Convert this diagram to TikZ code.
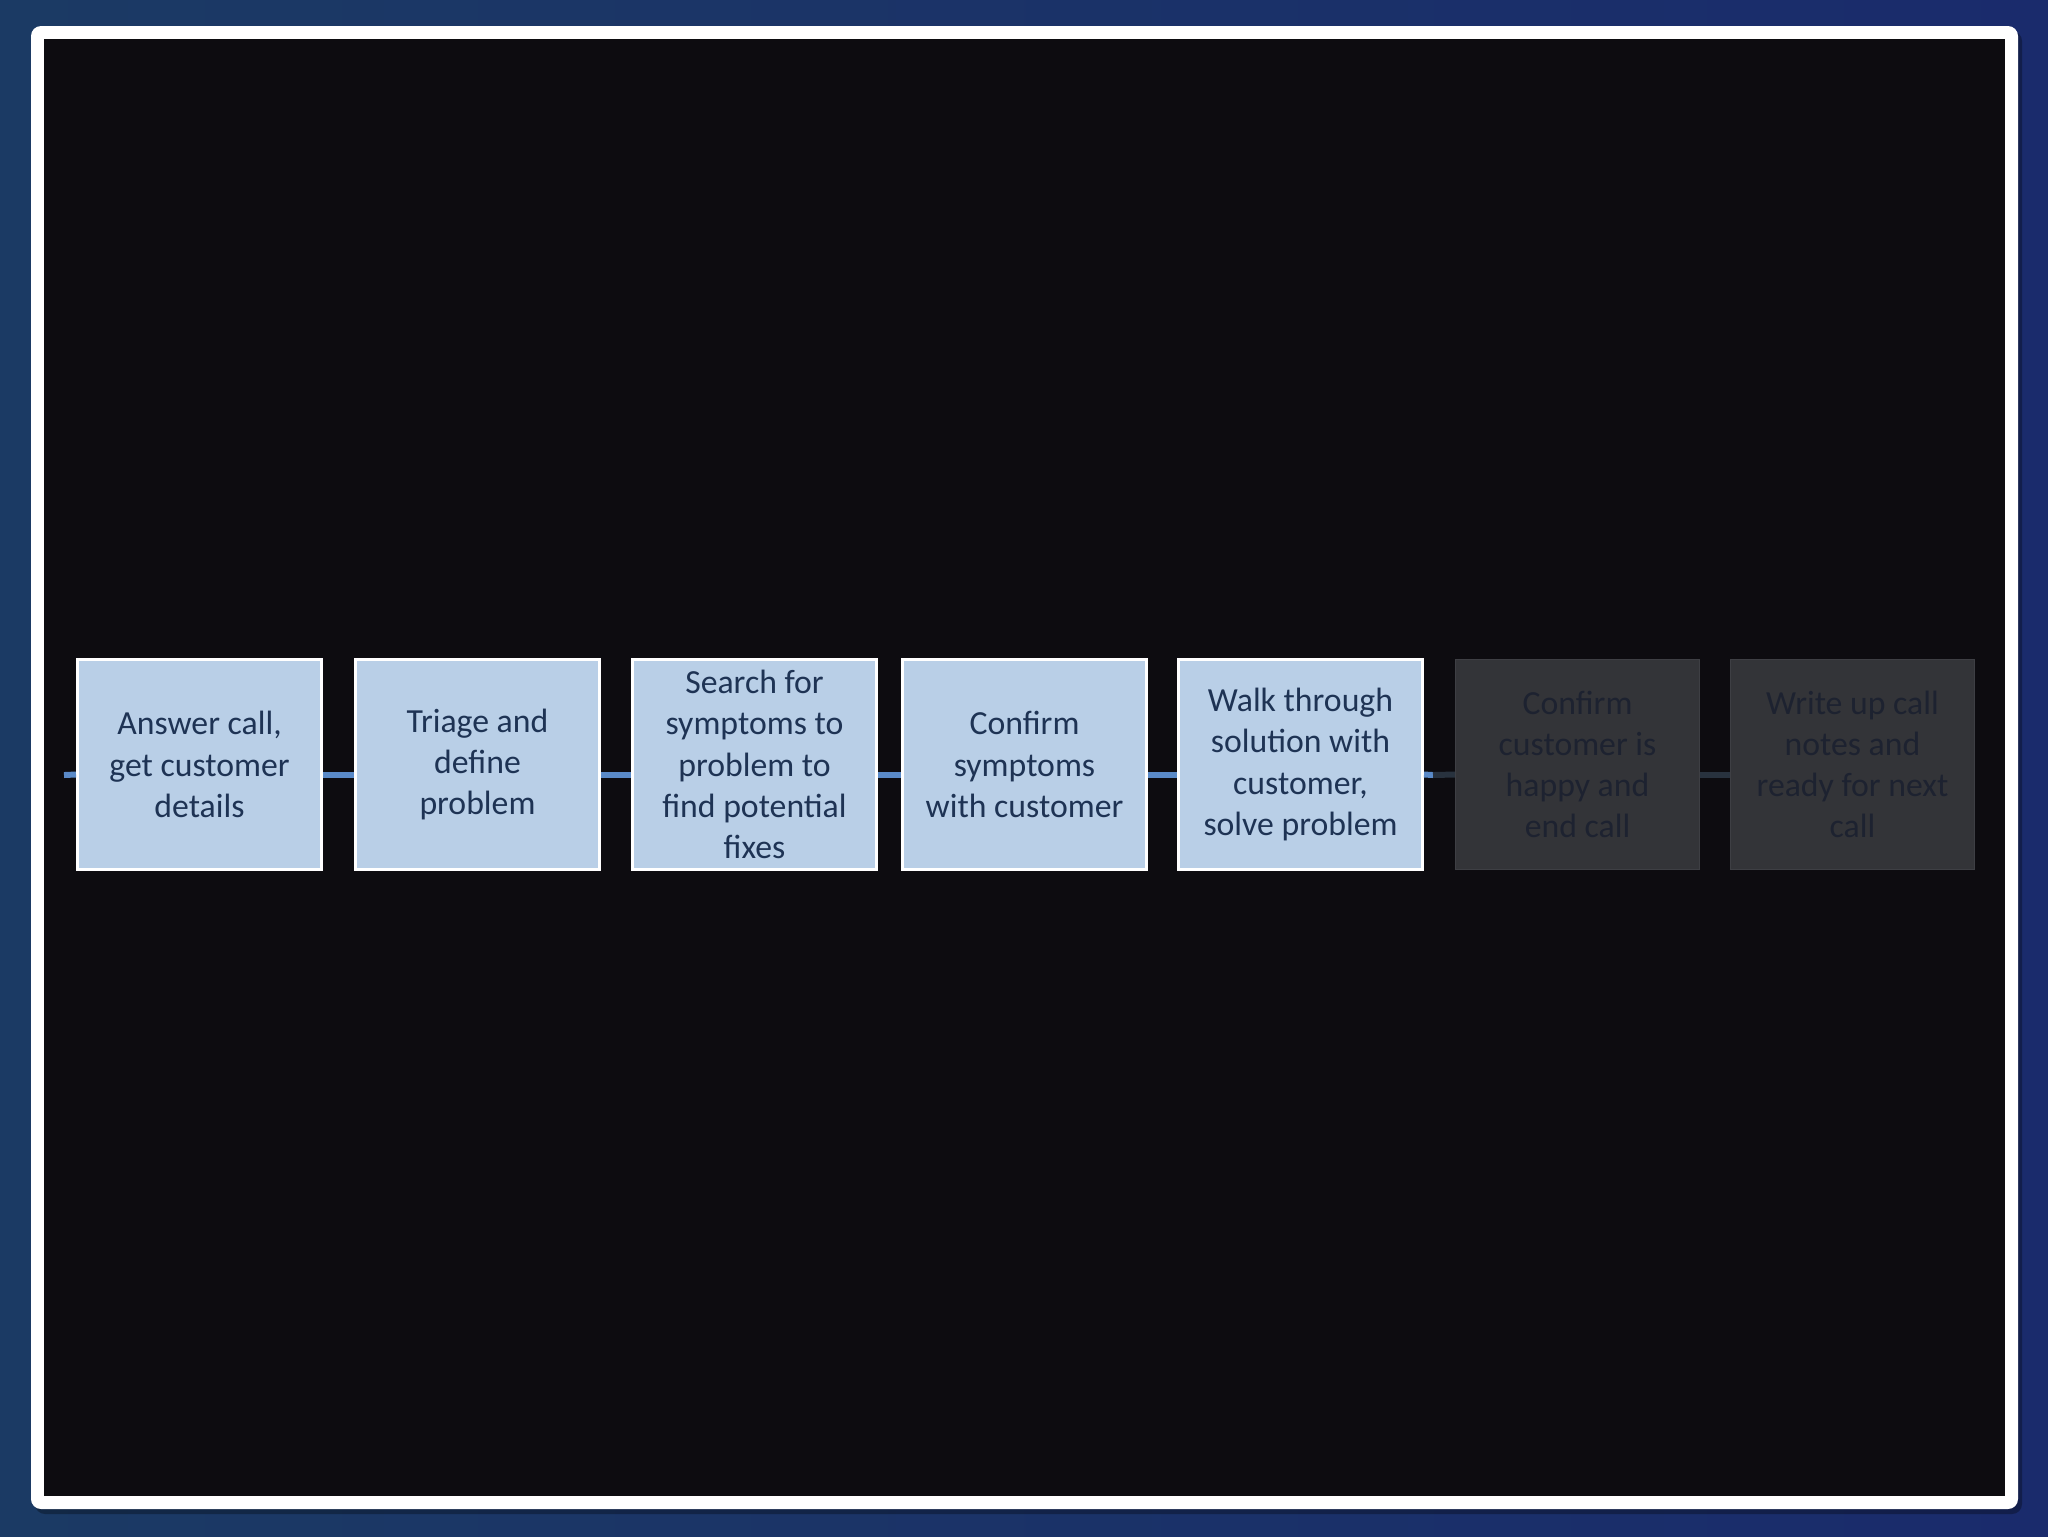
\documentclass[tikz,border=0pt]{standalone}
\usepackage{fontspec}
\setmainfont{Carlito}
\usepackage{xcolor}
\usepackage{tikz}
\definecolor{bgleft}{HTML}{1B3A64}
\definecolor{bgright}{HTML}{1A2B6C}
\definecolor{slide}{HTML}{0D0C10}
\definecolor{stepfill}{HTML}{B9CFE7}
\definecolor{steptext}{HTML}{1E3354}
\definecolor{dimfill}{HTML}{333438}
\definecolor{dimline}{HTML}{3E3F44}
\definecolor{dimtext}{HTML}{1D2230}
\definecolor{linkblue}{HTML}{5A8AC8}
\definecolor{linkdim}{HTML}{28323E}
\tikzset{
  stepbox/.style={draw=white, line width=0.85pt, fill=stepfill, text=steptext,
    minimum width=24.4mm, minimum height=21mm, inner sep=0pt, align=center,
    font=\fontsize{9.6pt}{11.7pt}\selectfont},
  dimbox/.style={stepbox, draw=dimline, line width=0.4pt, fill=dimfill, text=dimtext},
  link/.style={draw=linkblue, line width=1.7pt},
  dimlink/.style={draw=linkdim, line width=1.7pt}
}

\begin{document}
\begin{tikzpicture}[x=0.1mm, y=-0.1mm]
  \useasboundingbox (0,0) rectangle (2048,1536);
  % slide background and frame
  \shade[left color=bgleft, right color=bgright] (0,0) rectangle (2048,1536);
  \fill[black, opacity=0.3, rounded corners=1mm] (35,31) rectangle (2022,1514);
  \fill[white, rounded corners=1mm] (31,26) rectangle (2018,1509);
  \fill[slide] (44,39) rectangle (2005,1496);

  \node[stepbox] (s1) at (199.5,764.5) {Answer call,\\get customer\\details};
  \node[stepbox] (s2) at (477.5,764.5) {Triage and\\define\\problem};
  \node[stepbox] (s3) at (754.5,764.5) {Search for\\symptoms to\\problem to\\find potential\\fixes};
  \node[stepbox] (s4) at (1024.5,764.5) {Confirm\\symptoms\\with customer};
  \node[stepbox] (s5) at (1300.5,764.5) {Walk through\\solution with\\customer,\\solve problem};
  \node[dimbox] (s6) at (1577.5,764.5) {Confirm\\customer is\\happy and\\end call};
  \node[dimbox] (s7) at (1852.5,764.5) {Write up call\\notes and\\ready for next\\call};

  \coordinate (start) at (64,775);
  \coordinate (fade) at (1433,775);
  \draw[link] (start) -- ([yshift=-1mm]s1.west);
  \foreach \a/\b in {s1/s2,s2/s3,s3/s4,s4/s5}
    \draw[link] ([yshift=-1mm]\a.east) -- ([yshift=-1mm]\b.west);
  \draw[link] ([yshift=-1mm]s5.east) -- (fade);
  \draw[dimlink] (fade) -- ([yshift=-1mm]s6.west);
  \draw[dimlink] ([yshift=-1mm]s6.east) -- ([yshift=-1mm]s7.west);
\end{tikzpicture}
\end{document}
